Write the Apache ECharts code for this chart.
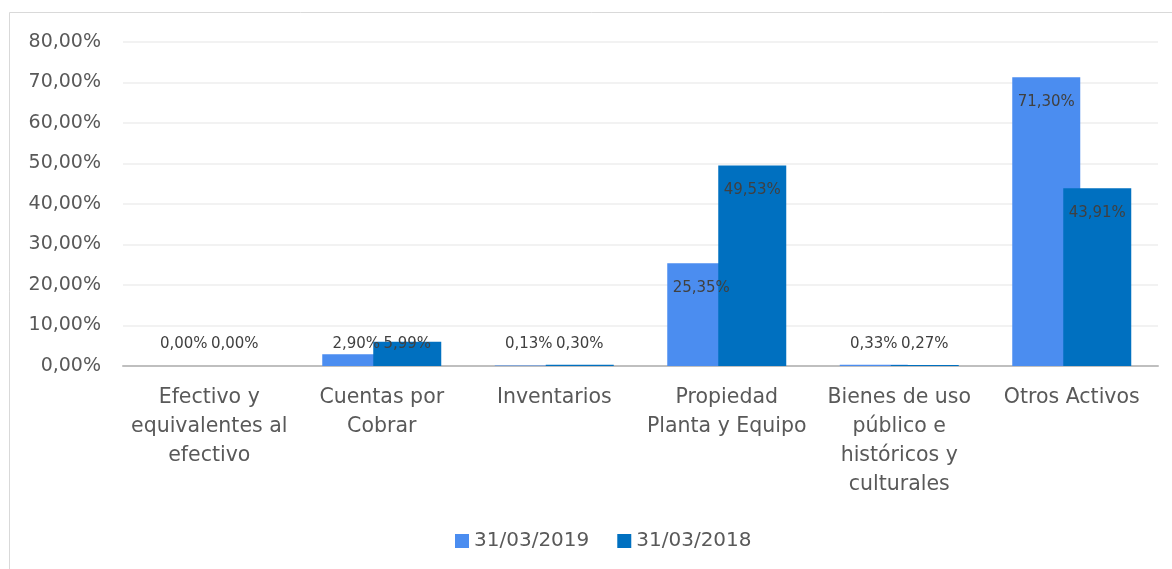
<!DOCTYPE html>
<html>
<head>
<meta charset="utf-8">
<script src="https://cdn.jsdelivr.net/npm/echarts@6/dist/echarts.min.js"></script>
<style>
html,body{margin:0;padding:0;background:#fff;}
#c{width:1172px;height:569px;}
</style>
</head>
<body>
<div id="c"></div>
<script>
const categories = [
  'Efectivo y\nequivalentes al\nefectivo',
  'Cuentas por\nCobrar',
  'Inventarios',
  'Propiedad\nPlanta y Equipo',
  'Bienes de uso\npúblico e\nhistóricos y\nculturales',
  'Otros Activos'
];
const seriesNames = ['31/03/2019', '31/03/2018'];
const values2019 = [0.00, 2.90, 0.13, 25.35, 0.33, 71.30];
const values2018 = [0.00, 5.99, 0.30, 49.53, 0.27, 43.91];
const yTicks = {min: 0, max: 80, interval: 10};

const FONT = 'DejaVu Sans';
const fmt = v => v.toFixed(2).replace('.', ',') + '%';

function withLabels(vals) {
  return vals.map(v => ({
    value: v,
    label: v > 10
      ? {position: 'insideTop', distance: 17}
      : {position: 'insideBottom', distance: 14}
  }));
}

const chart = echarts.init(document.getElementById('c'), null, {renderer: 'canvas'});
chart.setOption({
  animation: false,
  backgroundColor: '#ffffff',
  textStyle: {fontFamily: FONT},
  graphic: [{
    type: 'rect',
    shape: {x: 9.5, y: 12.5, width: 1200, height: 600},
    style: {fill: 'none', stroke: '#d9d9d9', lineWidth: 1},
    silent: true, z: -1
  }],
  grid: {left: 123, right: 14, top: 42, bottom: 203, containLabel: false},
  legend: {
    top: 526,
    left: 450,
    itemWidth: 14,
    itemHeight: 14,
    itemGap: 28,
    icon: 'rect',
    textStyle: {fontFamily: FONT, fontSize: 20, color: '#595959'},
    data: seriesNames
  },
  xAxis: {
    type: 'category',
    data: categories,
    axisLine: {lineStyle: {color: '#bfbfbf', width: 2}},
    axisTick: {show: false},
    axisLabel: {
      interval: 0,
      fontFamily: FONT,
      fontSize: 20.5,
      color: '#595959',
      lineHeight: 29,
      margin: 17
    }
  },
  yAxis: {
    type: 'value',
    min: yTicks.min,
    max: yTicks.max,
    interval: yTicks.interval,
    axisLine: {show: false},
    axisTick: {show: false},
    splitLine: {lineStyle: {color: '#eeeeee', width: 1.5}},
    axisLabel: {
      fontFamily: FONT,
      fontSize: 19,
      color: '#595959',
      margin: 22,
      formatter: v => v.toFixed(2).replace('.', ',') + '%'
    }
  },
  series: [
    {
      name: seriesNames[0],
      type: 'bar',
      barWidth: 68,
      barGap: '-25%',
      data: withLabels(values2019),
      itemStyle: {color: '#4b8df0'},
      label: {
        show: true,
        fontFamily: FONT,
        fontSize: 15,
        color: '#404040',
        formatter: p => fmt(p.value)
      }
    },
    {
      name: seriesNames[1],
      type: 'bar',
      barWidth: 68,
      barGap: '-25%',
      data: withLabels(values2018),
      itemStyle: {color: '#0070c0'},
      label: {
        show: true,
        fontFamily: FONT,
        fontSize: 15,
        color: '#404040',
        formatter: p => fmt(p.value)
      }
    }
  ]
});
</script>
</body>
</html>
